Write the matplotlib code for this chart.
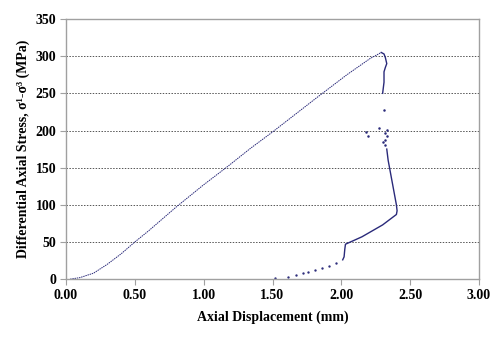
import matplotlib
matplotlib.use("Agg")
import matplotlib.pyplot as plt

# Loading branch (pre-peak)
load_x = [0.03, 0.10, 0.20, 0.30, 0.40, 0.50, 0.60, 0.70, 0.80, 0.90, 1.00,
          1.17, 1.34, 1.50, 1.82, 2.04, 2.21, 2.25, 2.29]
load_y = [0, 2, 8, 20, 34, 50, 65, 81, 97, 112, 127,
          151, 176, 198, 244, 275, 297, 301, 305]

# Post-peak upper branch
post_x = [2.29, 2.31, 2.32, 2.33, 2.32, 2.31, 2.31, 2.30]
post_y = [305, 303, 298, 290, 285, 279, 265, 250]

# Scattered points around failure
scat_x = [2.31, 2.18, 2.195, 2.27, 2.32, 2.33, 2.33, 2.30, 2.32, 2.315]
scat_y = [227, 198, 193, 203, 197, 201, 192, 184, 180, 187]

# Lower post-peak branch
low_x = [2.33, 2.34, 2.36, 2.38, 2.40, 2.405, 2.40, 2.30, 2.15, 2.03, 2.025, 2.02, 2.01]
low_y = [175, 160, 140, 120, 100, 92, 87, 73, 57, 47, 40, 30, 26]

# Sparse unloading points
tail_x = [1.96, 1.91, 1.86, 1.81, 1.76, 1.72, 1.67, 1.61, 1.52]
tail_y = [22, 18, 15, 12, 10, 8, 5, 3, 2]

xticks = [0.0, 0.5, 1.0, 1.5, 2.0, 2.5, 3.0]
yticks = [0, 50, 100, 150, 200, 250, 300, 350]

plt.rcParams['font.family'] = ['Liberation Serif', 'DejaVu Serif']
fig = plt.figure(figsize=(5, 3.4), dpi=100)
ax = fig.add_axes([0.132, 0.179, 0.826, 0.765])

col = '#2a2a7a'
ax.plot(load_x, load_y, color=col, lw=0.7, ls=(0, (1.5, 0.8)))
ax.plot(post_x, post_y, color=col, lw=1.0)
ax.plot(scat_x, scat_y, ls='none', marker='o', ms=0.8, color=col)
ax.plot(low_x, low_y, color=col, lw=1.0)
ax.plot(tail_x, tail_y, ls='none', marker='o', ms=0.7, color=col)

ax.set_xlim(0, 3.0)
ax.set_ylim(0, 350)
ax.set_xticks(xticks)
ax.set_xticklabels([f"{t:.2f}" for t in xticks])
ax.set_yticks(yticks)
for t in yticks[1:-1]:
    ax.axhline(t, color='#555555', lw=0.7, ls=(0, (1.5, 1.5)), zorder=0)

for s in ax.spines.values():
    s.set_color('#a0a0a0')
    s.set_linewidth(1.0)
ax.tick_params(direction='out', length=4, color='#a0a0a0', labelsize=10, pad=3)
for lab in ax.get_xticklabels() + ax.get_yticklabels():
    lab.set_fontweight('bold')

ax.set_xlabel('Axial Displacement (mm)', fontsize=10, fontweight='bold', labelpad=6)
ax.set_ylabel('Differential Axial Stress, σ¹-σ³ (MPa)', fontsize=10, fontweight='bold', labelpad=4)

fig.savefig('out.png', dpi=100)
